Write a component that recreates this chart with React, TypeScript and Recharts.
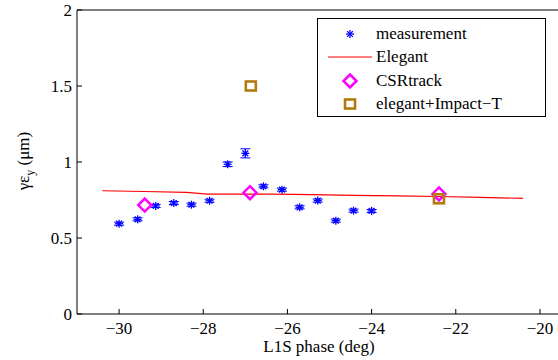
import { ComposedChart, Scatter, Line, XAxis, YAxis, ErrorBar, Legend } from 'recharts';

const phaseMeas = [-30.0, -29.56, -29.13, -28.7, -28.28, -27.85, -27.42, -27.0, -26.57, -26.13, -25.71, -25.28, -24.85, -24.43, -24.0];
const emitMeas = [0.594, 0.623, 0.711, 0.73, 0.719, 0.745, 0.985, 1.057, 0.84, 0.818, 0.702, 0.746, 0.614, 0.68, 0.678];
const errMeas = [0.01, 0.01, 0.01, 0.01, 0.01, 0.01, 0.015, 0.03, 0.01, 0.01, 0.01, 0.01, 0.01, 0.01, 0.01];

const phaseElegant = [-30.4, -29.4, -28.4, -27.9, -27.4, -26.4, -25.4, -24.4, -23.4, -22.4, -21.4, -20.4];
const emitElegant = [0.811, 0.806, 0.8, 0.789, 0.789, 0.788, 0.785, 0.781, 0.777, 0.773, 0.767, 0.761];

const phaseCsr = [-29.39, -26.89, -22.4];
const emitCsr = [0.717, 0.798, 0.79];

const phaseImpact = [-26.87, -22.4];
const emitImpact = [1.5, 0.758];

const xTicks = [-30, -28, -26, -24, -22, -20];
const yTicks = [0, 0.5, 1, 1.5, 2];

const FONT = 'Liberation Serif, Times New Roman, Tinos, DejaVu Serif, serif';
const BLUE = '#0000ff';
const RED = '#ff0000';
const MAGENTA = '#ff00ff';
const BROWN = '#b27a0e';

const measData = phaseMeas.map((x, i) => ({ x, y: emitMeas[i], err: errMeas[i] }));
const elegantData = phaseElegant.map((x, i) => ({ x, y: emitElegant[i] }));
const csrData = phaseCsr.map((x, i) => ({ x, y: emitCsr[i] }));
const impactData = phaseImpact.map((x, i) => ({ x, y: emitImpact[i] }));

const fmt = (v: number) => String(v).replace('-', '\u2212');

function Star({ cx, cy }: any) {
  const r = 4;
  const d = r * 0.72;
  return (
    <g stroke={BLUE} strokeWidth={1.3}>
      <line x1={cx - r} y1={cy} x2={cx + r} y2={cy} />
      <line x1={cx} y1={cy - r} x2={cx} y2={cy + r} />
      <line x1={cx - d} y1={cy - d} x2={cx + d} y2={cy + d} />
      <line x1={cx - d} y1={cy + d} x2={cx + d} y2={cy - d} />
    </g>
  );
}

function Diamond({ cx, cy }: any) {
  const r = 6.5;
  return <path d={`M${cx},${cy - r}L${cx + r},${cy}L${cx},${cy + r}L${cx - r},${cy}Z`} fill="none" stroke={MAGENTA} strokeWidth={2.5} />;
}

function Square({ cx, cy }: any) {
  return <rect x={cx - 5} y={cy - 4.5} width={10} height={9} fill="none" stroke={BROWN} strokeWidth={2.6} />;
}

const legendRows = [
  { name: 'measurement', kind: 'star' },
  { name: 'Elegant', kind: 'line' },
  { name: 'CSRtrack', kind: 'diamond' },
  { name: 'elegant+Impact\u2212T', kind: 'square' },
];

function LegendBox() {
  return (
    <div style={{ width: 227, height: 94, border: '1.5px solid #000', background: '#fff', fontFamily: FONT, fontSize: 17, paddingTop: 3, boxSizing: 'content-box' }}>
      {legendRows.map((row) => (
        <div key={row.name} style={{ display: 'flex', alignItems: 'center', height: 23.5 }}>
          <svg width={58} height={20} style={{ flex: 'none' }}>
            {row.kind === 'star' && <Star cx={32} cy={10} />}
            {row.kind === 'line' && <line x1={10} y1={10} x2={54} y2={10} stroke={RED} strokeWidth={1.2} />}
            {row.kind === 'diamond' && <Diamond cx={32} cy={10} />}
            {row.kind === 'square' && <Square cx={32} cy={10} />}
          </svg>
          <span style={{ lineHeight: '20px' }}>{row.name}</span>
        </div>
      ))}
    </div>
  );
}

export default function App() {
  const tickStyle = { fontFamily: FONT, fontSize: 17, fill: '#000' };
  return (
    <div style={{ position: 'fixed', left: 0, top: 0, width: 558, height: 360, overflow: 'hidden', background: '#fff', fontFamily: FONT }}>
      <ComposedChart width={570} height={360} margin={{ top: 9, right: 8, bottom: 0, left: 0 }} style={{ fontFamily: FONT }}>
        <XAxis
          dataKey="x"
          type="number"
          domain={[-31, -19.5]}
          ticks={xTicks}
          tickFormatter={fmt}
          tick={tickStyle}
          tickSize={-5}
          tickMargin={13}
          height={46}
          stroke="#000"
          allowDataOverflow
          label={{
            content: ({ viewBox }: any) => (
              <text x={viewBox.x + viewBox.width / 2} y={viewBox.y + 38} textAnchor="middle" fontFamily={FONT} fontSize={17} fill="#000">
                L1S phase (deg)
              </text>
            ),
          }}
        />
        <XAxis xAxisId="top" orientation="top" dataKey="x" type="number" domain={[-31, -19.5]} ticks={xTicks} tick={false} tickSize={-5} height={1} stroke="#000" allowDataOverflow />
        <YAxis
          dataKey="y"
          type="number"
          domain={[0, 2]}
          ticks={yTicks}
          tick={tickStyle}
          tickSize={-5}
          tickMargin={10}
          width={77}
          stroke="#000"
          allowDataOverflow
          label={{
            content: () => (
              <text transform="translate(29,161) rotate(-90)" textAnchor="middle" fontFamily={FONT} fontSize={17} fill="#000">
                γε<tspan fontSize={12} dy={5}>y</tspan>
                <tspan dy={-5}> (μm)</tspan>
              </text>
            ),
          }}
        />
        <YAxis yAxisId="right" orientation="right" dataKey="y" type="number" domain={[0, 2]} ticks={yTicks} tick={false} tickSize={-5} width={1} stroke="#000" allowDataOverflow />
        <Legend layout="horizontal" verticalAlign="middle" align="center" wrapperStyle={{ position: 'absolute', left: 317, top: 18, width: 'auto' }} content={() => <LegendBox />} />
        <Scatter name="measurement" data={measData} dataKey="y" shape={<Star />} isAnimationActive={false}>
          <ErrorBar dataKey="err" direction="y" width={5} stroke={BLUE} strokeWidth={1} />
        </Scatter>
        <Line name="Elegant" data={elegantData} dataKey="y" type="linear" stroke={RED} strokeWidth={1.2} dot={false} activeDot={false} isAnimationActive={false} />
        <Scatter name="CSRtrack" data={csrData} dataKey="y" shape={<Diamond />} isAnimationActive={false} />
        <Scatter name="elegant+Impact-T" data={impactData} dataKey="y" shape={<Square />} isAnimationActive={false} />
      </ComposedChart>
    </div>
  );
}
